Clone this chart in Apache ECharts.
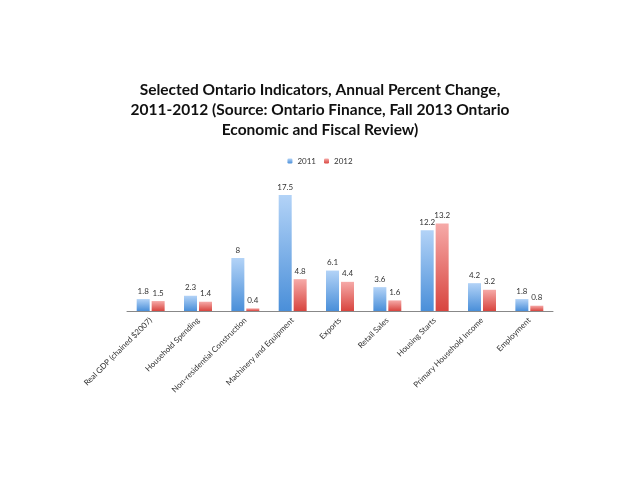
<!DOCTYPE html>
<html><head><meta charset="utf-8">
<script src="https://cdn.jsdelivr.net/npm/echarts@6/dist/echarts.min.js"></script>
<style>html,body{margin:0;padding:0;background:#fff}#c{width:640px;height:480px}</style>
</head><body><div id="c"></div>
<script>
const categories = ["Real GDP (chained $2007)","Household Spending","Non-residential Construction","Machinery and Equipment","Exports","Retail Sales","Housing Starts","Primary Household Income","Employment"];
const values2011 = [1.8, 2.3, 8, 17.5, 6.1, 3.6, 12.2, 4.2, 1.8];
const values2012 = [1.5, 1.4, 0.4, 4.8, 4.4, 1.6, 13.2, 3.2, 0.8];
const seriesNames = ["2011","2012"];

const chart = echarts.init(document.getElementById('c'));
const grad = (a,b) => new echarts.graphic.LinearGradient(0,0,0,1,[{offset:0,color:a},{offset:1,color:b}]);
const lbl = {show:true, position:'top', fontSize:8, color:'#333', fontFamily:'Lato', distance:4};
chart.setOption({
  animation:false,
  title:{text:'Selected Ontario Indicators, Annual Percent Change,\n2011-2012 (Source: Ontario Finance, Fall 2013 Ontario\nEconomic and Fiscal Review)',
    left:'center', top:75, textStyle:{fontFamily:'Lato', fontWeight:'bold', fontSize:15.5, lineHeight:20, color:'#111'}},
  legend:{top:152, left:'center', itemWidth:5, itemHeight:5, itemGap:8, textStyle:{fontSize:8, color:'#333', fontFamily:'Lato'}, data:seriesNames},
  grid:{left:127, right:87, top:195, height:116},
  xAxis:{type:'category', data:categories, axisTick:{show:false},
    axisLine:{lineStyle:{color:'#888', width:1}},
    axisLabel:{rotate:45, fontSize:8, color:'#333', fontFamily:'Lato', interval:0, margin:8}},
  yAxis:{type:'value', min:0, max:17.5, show:false, splitLine:{show:false}},
  series:[
    {name:seriesNames[0], type:'bar', data:values2011, barWidth:13, barGap:'15%', label:lbl,
     itemStyle:{color:grad('#b3d3f7','#4a8fd9')}},
    {name:seriesNames[1], type:'bar', data:values2012, barWidth:13, label:lbl,
     itemStyle:{color:grad('#f6aaa8','#d8453f')}}
  ]
});
</script></body></html>
